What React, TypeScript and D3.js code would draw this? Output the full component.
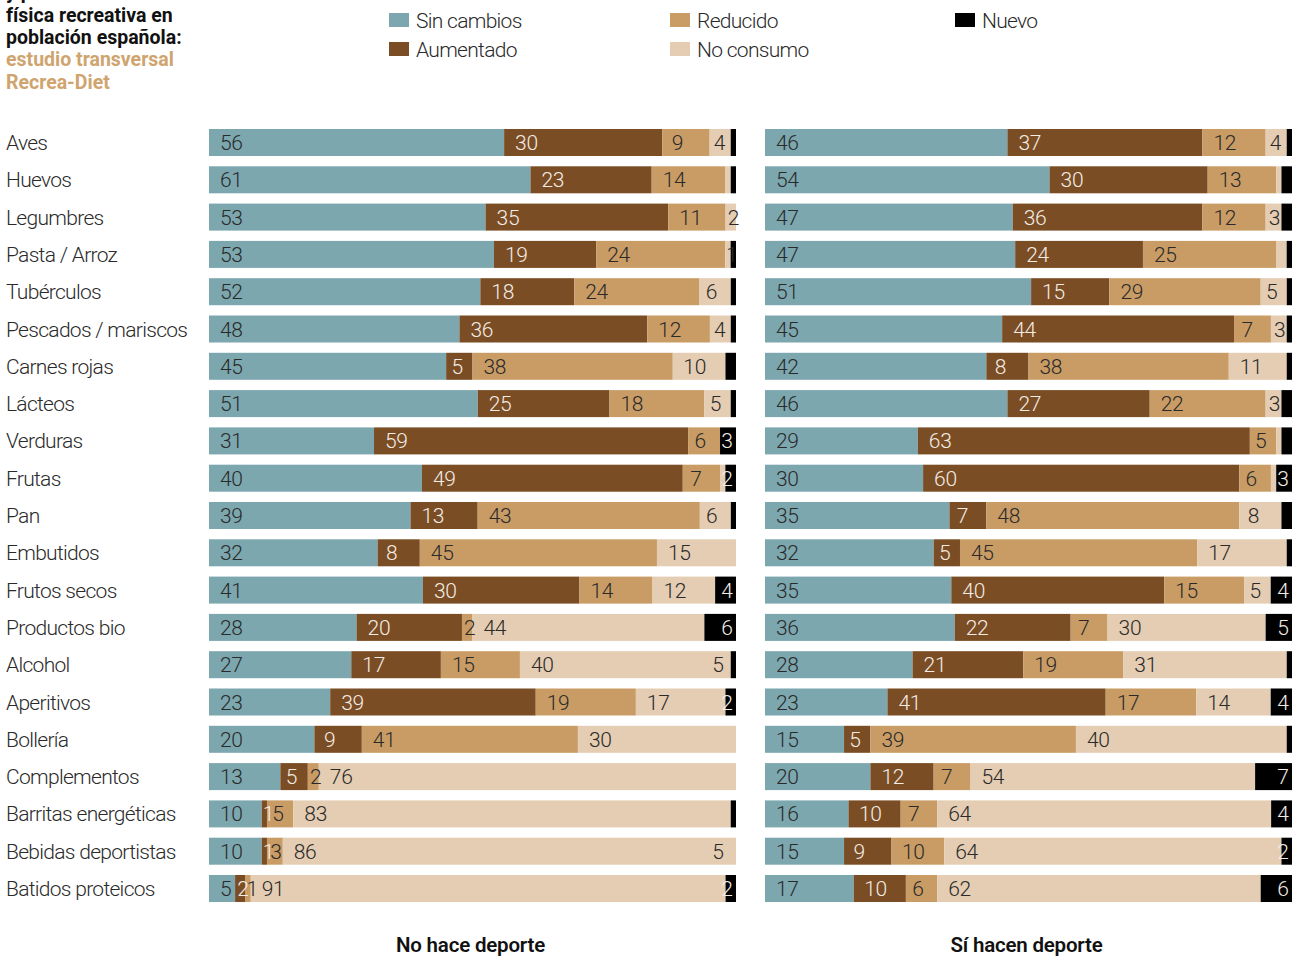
import React from 'react';
import * as d3 from 'd3';

const categories = [
  'Aves', 'Huevos', 'Legumbres', 'Pasta / Arroz', 'Tubérculos', 'Pescados / mariscos',
  'Carnes rojas', 'Lácteos', 'Verduras', 'Frutas', 'Pan', 'Embutidos', 'Frutos secos',
  'Productos bio', 'Alcohol', 'Aperitivos', 'Bollería', 'Complementos',
  'Barritas energéticas', 'Bebidas deportistas', 'Batidos proteicos',
];

const seriesKeys = ['sinCambios', 'aumentado', 'reducido', 'noConsumo', 'nuevo'];
const seriesNames = ['Sin cambios', 'Aumentado', 'Reducido', 'No consumo', 'Nuevo'];
const seriesColors = ['#7ca7af', '#7b4d24', '#c99c65', '#e4cdb2', '#000000'];
const labelDark = [true, false, true, true, false];

// No hace deporte
const sinCambiosNo = [56, 61, 53, 53, 52, 48, 45, 51, 31, 40, 39, 32, 41, 28, 27, 23, 20, 13, 10, 10, 5];
const aumentadoNo = [30, 23, 35, 19, 18, 36, 5, 25, 59, 49, 13, 8, 30, 20, 17, 39, 9, 5, 1, 1, 2];
const reducidoNo = [9, 14, 11, 24, 24, 12, 38, 18, 6, 7, 43, 45, 14, 2, 15, 19, 41, 2, 5, 3, 1];
const noConsumoNo = [4, 1, 2, 1, 6, 4, 10, 5, 0, 1, 6, 15, 12, 44, 40, 17, 30, 76, 83, 86, 91];
const nuevoNo = [1, 1, 0, 1, 1, 1, 2, 1, 3, 2, 1, 0, 4, 6, 1, 2, 0, 0, 1, 0, 2];
const noConsumoLabelNo = ['4', '', '2', '1', '6', '4', '10', '5', '', '', '6', '15', '12', '44', '40', '17', '30', '76', '83', '86', '91'];
const nuevoLabelNo = ['', '', '', '', '', '', '', '', '3', '2', '', '', '4', '6', '5', '2', '', '', '', '5', '2'];

// Sí hacen deporte
const sinCambiosSi = [46, 54, 47, 47, 51, 45, 42, 46, 29, 30, 35, 32, 35, 36, 28, 23, 15, 20, 16, 15, 17];
const aumentadoSi = [37, 30, 36, 24, 15, 44, 8, 27, 63, 60, 7, 5, 40, 22, 21, 41, 5, 12, 10, 9, 10];
const reducidoSi = [12, 13, 12, 25, 29, 7, 38, 22, 5, 6, 48, 45, 15, 7, 19, 17, 39, 7, 7, 10, 6];
const noConsumoSi = [4, 1, 3, 2, 5, 3, 11, 3, 1, 1, 8, 17, 5, 30, 31, 14, 40, 54, 64, 64, 62];
const nuevoSi = [1, 2, 2, 1, 1, 1, 1, 2, 2, 3, 2, 1, 4, 5, 1, 4, 1, 7, 4, 2, 6];
const noConsumoLabelSi = ['4', '', '3', '', '5', '3', '11', '3', '', '', '8', '17', '5', '30', '31', '14', '40', '54', '64', '64', '62'];
const nuevoLabelSi = ['', '', '', '', '', '', '', '', '', '3', '', '', '4', '5', '', '4', '', '7', '4', '2', '6'];

const titleLines = ['y práctica de actividad', 'física recreativa en', 'población española:'];
const subtitleLines = ['estudio transversal', 'Recrea-Diet'];

const panels = [
  {
    title: 'No hace deporte', x0: 209, x1: 736,
    values: [sinCambiosNo, aumentadoNo, reducidoNo, noConsumoNo, nuevoNo],
    ncLabels: noConsumoLabelNo, nuevoLabels: nuevoLabelNo,
  },
  {
    title: 'Sí hacen deporte', x0: 765, x1: 1292,
    values: [sinCambiosSi, aumentadoSi, reducidoSi, noConsumoSi, nuevoSi],
    ncLabels: noConsumoLabelSi, nuevoLabels: nuevoLabelSi,
  },
];

const LIGHT = "Roboto, 'Noto Sans', sans-serif";
const BOLD = "Roboto, 'Noto Sans', sans-serif";

function Panel({ p, y }: any) {
  const rows = categories.map((c, i) => {
    const o: any = { cat: c };
    seriesKeys.forEach((k, j) => { o[k] = p.values[j][i]; });
    return o;
  });
  const stacked = d3.stack().keys(seriesKeys).offset(d3.stackOffsetExpand)(rows);
  const x = d3.scaleLinear().domain([0, 1]).range([p.x0, p.x1]);
  const bw = y.bandwidth();
  return (
    <g>
      {stacked.map((layer: any, j: number) => (
        <g key={seriesKeys[j]}>
          {layer.map((d: any, i: number) => {
            const w = x(d[1]) - x(d[0]);
            if (w <= 0) return null;
            return <rect key={i} x={x(d[0])} y={y(categories[i])} width={w} height={bw} fill={seriesColors[j]} />;
          })}
        </g>
      ))}
      {stacked.map((layer: any, j: number) => (
        <g key={'l' + seriesKeys[j]}>
          {layer.map((d: any, i: number) => {
            const v = p.values[j][i];
            let label = String(v);
            if (j === 3) label = p.ncLabels[i];
            if (j === 4) label = p.nuevoLabels[i];
            if (!label || (j < 3 && v <= 0)) return null;
            const xs = x(d[0]);
            const w = x(d[1]) - xs;
            const cy = (y(categories[i]) as number) + bw / 2;
            if (j === 4) {
              const dark = v <= 1;
              return (
                <text key={i} x={p.x1 - (dark ? 18 : 9)} y={cy} dy="0.36em" textAnchor="middle"
                  fontFamily={LIGHT} fontWeight={300} fontSize={21}
                  fill={dark ? '#2a2a2a' : '#f2ece4'}>{label}</text>
              );
            }
            const off = j === 0 ? 11 : Math.min(11, Math.max(0, w * 0.2));
            return (
              <text key={i} x={xs + off} y={cy} dy="0.36em"
                fontFamily={LIGHT} fontWeight={300} fontSize={21} letterSpacing={-0.3}
                fill={labelDark[j] ? '#2a2a2a' : '#f2ece4'}>{label}</text>
            );
          })}
        </g>
      ))}
      <text x={(p.x0 + p.x1) / 2 - 2} y={952} textAnchor="middle" fontFamily={BOLD}
        fontWeight={600} fontSize={20.5} fill="#111" letterSpacing={-0.2}>{p.title}</text>
    </g>
  );
}

export default function App() {
  const W = 1305, H = 958;
  const y = d3.scaleBand().domain(categories).range([123.85, 907.15]).paddingInner(0.276).paddingOuter(0.138);
  const legendPos = [
    { x: 389, y: 13 }, { x: 389, y: 42 }, { x: 670, y: 13 }, { x: 670, y: 42 }, { x: 955, y: 13 },
  ];
  return (
    <svg width={W} height={H} style={{ position: 'absolute', left: 0, top: 0, background: '#fff' }}>
      {titleLines.map((t, i) => (
        <text key={t} x={6} y={-1 + i * 22.5} fontFamily={BOLD} fontWeight={700} fontSize={19.5}
          fill="#111">{t}</text>
      ))}
      {subtitleLines.map((t, i) => (
        <text key={t} x={6} y={66 + i * 22.5} fontFamily={BOLD} fontWeight={700} fontSize={19.5}
          fill="#cfa46f">{t}</text>
      ))}
      {seriesNames.map((n, i) => (
        <g key={n}>
          <rect x={legendPos[i].x} y={legendPos[i].y} width={20} height={14} fill={seriesColors[i]} />
          <text x={legendPos[i].x + 27} y={legendPos[i].y + 7} dy="0.36em" fontFamily={LIGHT}
            fontWeight={300} fontSize={21} fill="#2a2a2a" letterSpacing={-0.7}>{n}</text>
        </g>
      ))}
      {categories.map(c => (
        <text key={c} x={6} y={(y(c) as number) + y.bandwidth() / 2} dy="0.36em" fontFamily={LIGHT}
          fontWeight={300} fontSize={21} fill="#2a2a2a" letterSpacing={-0.7}>{c}</text>
      ))}
      {panels.map(p => <Panel key={p.title} p={p} y={y} />)}
    </svg>
  );
}
